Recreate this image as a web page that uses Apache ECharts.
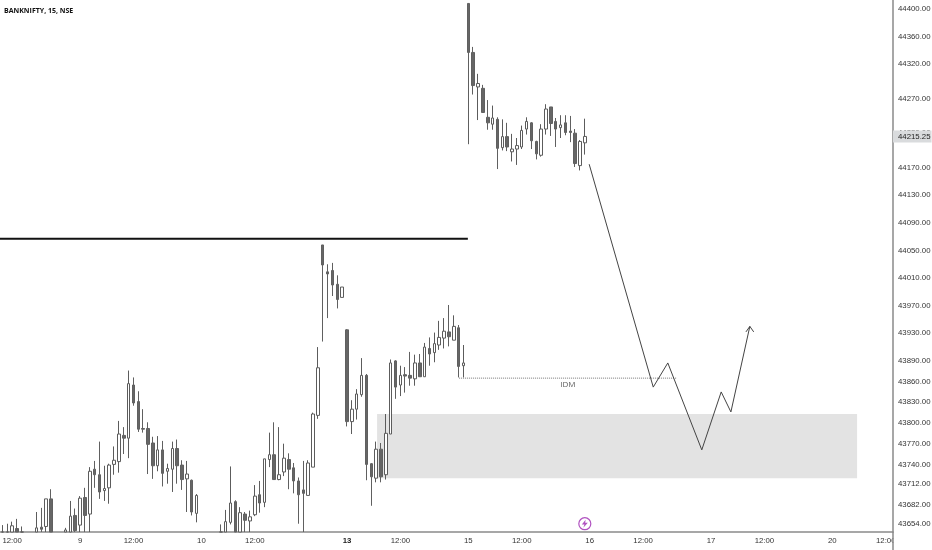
<!DOCTYPE html>
<html>
<head>
<meta charset="utf-8">
<style>html,body{margin:0;padding:0;background:#fff}#c{width:932px;height:550px}</style>
<script src="https://cdn.jsdelivr.net/npm/echarts@6/dist/echarts.min.js"></script>
</head>
<body>
<div id="c"></div>
<script>
const N = null;
const opens = [43630,43632,43635,43647,43636,N,N,43635,43649,43650,43690,N,N,43640,43636,43666,43652,43692,43668,43733,
43725,43702,43706,43740,43744,43782,43778,43855,43831,43792,43792,43771,43738,43761,43730,43733,43763,43739,43719,43717,
43669,N,N,N,N,43632,43636,43656,43686,43636,43668,43658,43667,43696,43685,43747,43754,43718,43729,43747,
43735,43716,43703,43695,43736,43811,44058,44019,44021,44001,43982,43935,43802,43820,43841,43869,43741,43720,43762,43725,
43784,43890,43855,43870,43869,43864,43887,43867,43908,43902,43913,43923,43932,43920,43938,43883,44408,44337,44287,44285,
44243,44233,44240,44199,44215,44193,44197,44200,44226,44235,44208,44188,44226,44258,44237,44228,44235,44223,44220,44173,44206];
const closes = [43636,43638,43651,43636,43630,N,N,43648,43646,43690,43635,N,N,43645,43665,43644,43691,43666,43730,43725,
43700,43705,43739,43746,43784,43778,43857,43829,43791,43791,43769,43738,43761,43727,43734,43763,43738,43718,43726,43671,
43695,N,N,N,N,43638,43657,43684,43636,43670,43659,43664,43694,43684,43748,43754,43718,43725,43749,43733,
43716,43696,43698,43742,43813,43880,44029,44016,44000,43979,43997,43802,43820,43842,43869,43740,43722,43762,43722,43785,
43887,43852,43869,43868,43865,43887,43867,43910,43900,43915,43924,43933,43925,43940,43882,43887,44337,44289,44292,44250,
44235,44242,44198,44215,44200,44197,44202,44224,44237,44209,44190,44226,44255,44234,44226,44232,44221,44221,44176,44208,44215.25];
const lows = [43625,43628,43628,43630,43626,N,N,43630,43635,43636,43630,N,N,43634,43630,43636,43638,43640,43640,43706,
43690,43687,43683,43725,43728,43755,43749,43825,43787,43786,43726,43719,43730,43708,43712,43700,43712,43703,43671,43666,
43656,N,N,N,N,43625,43630,43653,43630,43630,43636,43638,43665,43670,43678,43736,43718,43717,43723,43704,
43698,43654,43636,43695,43736,43806,43918,43952,43984,43966,43982,43795,43784,43805,43838,43717,43680,43714,43714,43718,
43784,43835,43839,43844,43854,43854,43867,43867,43883,43888,43906,43908,43911,43920,43866,43866,44204,44276,44239,44250,
44225,44225,44168,44195,44194,44179,44174,44197,44218,44197,44182,44186,44218,44216,44200,44213,44217,44207,44171,44166,44189];
const highs = [43652,43654,43657,43661,43650,N,N,43671,43677,43690,43704,N,N,43648,43687,43676,43694,43706,43736,43745,
43773,43738,43741,43766,43803,43794,43876,43866,43846,43820,43801,43780,43781,43774,43741,43773,43776,43746,43745,43718,
43697,N,N,N,N,43653,43674,43737,43688,43678,43671,43673,43710,43716,43748,43786,43801,43794,43770,43756,
43742,43721,43745,43746,43815,43910,44058,44030,44032,44014,43997,43936,43833,43849,43894,43871,43742,43773,43771,43813,
43892,43891,43883,43881,43903,43899,43900,43916,43924,43931,43948,43952,43971,43956,43942,43913,44408,44345,44306,44290,
44268,44260,44243,44240,44235,44219,44213,44231,44243,44236,44209,44233,44262,44258,44242,44246,44246,44245,44226,44210,44241];

const barSlots = 184;
const tickIndexes = [2,16,27,41,52,71,82,96,107,121,132,146,157,171,182];
const tickLabels = ['12:00','9','12:00','10','12:00','13','12:00','15','12:00','16','12:00','17','12:00','20','12:00'];
const priceTicks = [44400,44360,44320,44270,44220,44170,44130,44090,44050,44010,43970,43930,43890,43860,43830,43800,43770,43740,43712,43682,43654];
const lastPrice = 44215.25;
const axisMin = 43642, axisMax = 44413;

const resistanceLine = [[0,44067],[96.4,44067]];
const idmLine = [[94.6,43865],[139.5,43865]];
const idmLabel = [[117,43855]];
const projection = [[121.4,44175],[134.6,43852],[137.6,43887],[144.6,43761],[148.6,43845],[150.6,43816],[154.5,43940]];
const arrowHead = [[153.7,43932],[154.5,43940],[155.3,43932]];
const demandZone = {x0:77.7,x1:176.6,top:43813,bottom:43720};
const flashIcon = [[120.5,43654]];

const categories = Array.from({length:barSlots},(_,i)=>{
  const k = tickIndexes.indexOf(i);
  return k>=0 ? tickLabels[k] : '';
});
const floorAtAxis = v => v===null ? null : Math.max(v,axisMin);
const candles = opens.map((o,i)=>[floorAtAxis(o),floorAtAxis(closes[i]),floorAtAxis(lows[i]),floorAtAxis(highs[i])]);
const labelFont = '"Liberation Sans",sans-serif';
const chart = echarts.init(document.getElementById('c'),null,{renderer:'canvas'});
chart.setOption({
  animation:false,
  backgroundColor:'#fff',
  title:{text:'BANKNIFTY, 15, NSE',left:4,top:7,padding:0,textStyle:{fontFamily:'"Open Sans"',fontSize:7,fontWeight:'bold',color:'#111'}},
  grid:{left:0,right:39,top:0,bottom:18,containLabel:false,outerBoundsMode:'none'},
  xAxis:[
    {type:'category',data:categories,boundaryGap:true,
     axisLine:{show:true,onZero:false,lineStyle:{color:'#8a8a8a',width:1.5}},axisTick:{show:false},splitLine:{show:false},
     axisLabel:{interval:(i,v)=>v!=='',margin:5,hideOverlap:false,fontFamily:labelFont,fontSize:7.8,color:'#333',
       formatter:v=>v==='13'?'{b|13}':v,rich:{b:{fontWeight:'bold',fontFamily:labelFont,fontSize:7.8,color:'#222'}}}},
    {type:'value',min:0,max:barSlots,show:false}
  ],
  yAxis:{type:'value',position:'right',min:axisMin,max:axisMax,scale:true,
    axisLine:{show:true,onZero:false,lineStyle:{color:'#8a8a8a',width:1.5}},axisTick:{show:false},splitLine:{show:false},
    axisLabel:{customValues:priceTicks,margin:5,fontFamily:labelFont,fontSize:7.8,color:'#333',formatter:v=>v.toFixed(2)}},
  series:[
    {type:'line',name:'zone',xAxisIndex:1,data:[],z:1,silent:true,
     markArea:{silent:true,itemStyle:{color:'#e3e3e3'},data:[[{xAxis:demandZone.x0,yAxis:demandZone.top},{xAxis:demandZone.x1,yAxis:demandZone.bottom}]]}},
    {type:'candlestick',name:'BANKNIFTY',data:candles,barWidth:3,z:3,silent:true,
     itemStyle:{color:'#ffffff',color0:'#666666',borderColor:'#5c5c5c',borderColor0:'#606060',borderWidth:1},
     markLine:{silent:true,symbol:'none',animation:false,lineStyle:{color:'transparent',width:0},
       data:[{yAxis:lastPrice,label:{show:true,position:'end',distance:0,formatter:()=>lastPrice.toFixed(2),
         fontFamily:labelFont,fontSize:7.8,color:'#222',backgroundColor:'#d9dbdd',padding:[2,1,2,5]}}]}},
    {type:'line',name:'level',xAxisIndex:1,data:resistanceLine,symbol:'none',z:4,silent:true,lineStyle:{color:'#111',width:1.8}},
    {type:'line',name:'idm',xAxisIndex:1,data:idmLine,symbol:'none',z:4,silent:true,lineStyle:{color:'#777',width:1,type:[1,1]}},
    {type:'scatter',name:'idmText',xAxisIndex:1,data:idmLabel,symbolSize:0,z:4,silent:true,
     label:{show:true,position:'inside',formatter:'IDM',fontFamily:'"Open Sans"',fontSize:8,color:'#333'}},
    {type:'line',name:'path',xAxisIndex:1,data:projection,symbol:'none',z:4,silent:true,lineStyle:{color:'#444',width:1}},
    {type:'line',name:'arrow',xAxisIndex:1,data:arrowHead,symbol:'none',z:4,silent:true,lineStyle:{color:'#444',width:1}},
    {type:'scatter',name:'flashRing',xAxisIndex:1,data:flashIcon,symbol:'circle',symbolSize:12,z:4,silent:true,
     itemStyle:{color:'#fff',borderColor:'#9c27b0',borderWidth:1.2}},
    {type:'scatter',name:'flashBolt',xAxisIndex:1,data:flashIcon,symbol:'path://M6 0 L1 7 L4.5 7 L3 12 L9 4.5 L5.5 4.5 Z',symbolSize:[6,8],z:5,silent:true,
     itemStyle:{color:'#9c27b0'}}
  ],
  graphic:[
    {type:'rect',z:100,shape:{x:893.5,y:533,width:39,height:17},style:{fill:'#fff'},silent:true},
    {type:'line',z:101,shape:{x1:893,y1:532,x2:893,y2:550},style:{stroke:'#8a8a8a',lineWidth:1.5},silent:true}
  ]
});
</script>
</body>
</html>
